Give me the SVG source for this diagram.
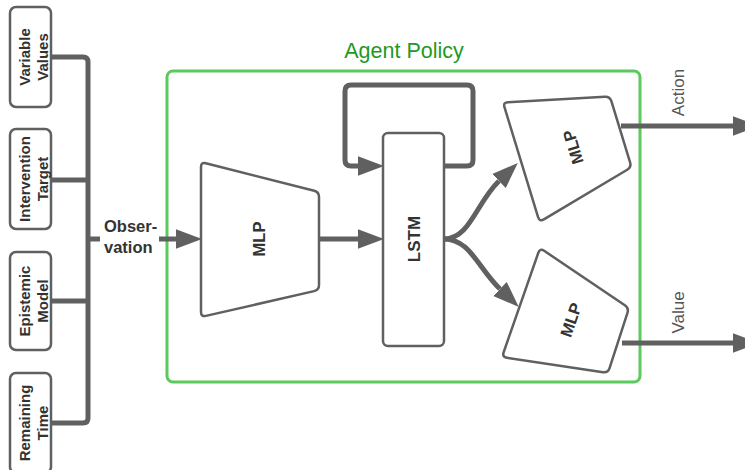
<svg xmlns="http://www.w3.org/2000/svg" width="745" height="470" viewBox="0 0 745 470">
<defs>
<style>
.box{fill:#fff;stroke:#606060;stroke-width:2.5;}
.lbl{font-family:"Liberation Sans",Arial,sans-serif;font-weight:bold;font-size:15px;fill:#333;text-anchor:middle;}
.big{font-family:"Liberation Sans",Arial,sans-serif;font-weight:bold;fill:#333;text-anchor:middle;}
.out{font-family:"Liberation Sans",Arial,sans-serif;font-size:17px;fill:#555;text-anchor:middle;}
.con{fill:none;stroke:#606060;stroke-width:5;}
</style>
<marker id="ah" markerUnits="userSpaceOnUse" markerWidth="26" markerHeight="20" viewBox="0 0 24 18" refX="0" refY="9" orient="auto">
<path d="M0,0 L24,9 L0,18 Z" fill="#606060"/>
</marker>
<path id="mlp" d="M-47.1,-61.3 L47.1,-38.2 Q52,-37 52,-32 L52,32 Q52,37 47.1,38.2 L-47.1,61.3 Q-52,62.5 -52,57.5 L-52,-57.5 Q-52,-62.5 -47.1,-61.3 Z"/>
</defs>

<g id="agent-policy">
<rect x="167" y="71" width="473" height="311" rx="6" fill="none" stroke="#5cc95c" stroke-width="3"/>
<text x="404" y="58" font-family="'Liberation Sans',Arial,sans-serif" font-size="21.5" fill="#1f9a1f" text-anchor="middle">Agent Policy</text>
</g>

<g id="variable-values">
<rect class="box" x="10" y="7" width="41" height="100" rx="6"/>
<text class="lbl" transform="translate(30.5,57) rotate(-90)"><tspan x="0" y="-1">Variable</tspan><tspan x="0" y="17.5">Values</tspan></text>
</g>
<g id="intervention-target">
<rect class="box" x="10" y="129" width="41" height="100" rx="6"/>
<text class="lbl" transform="translate(30.5,179) rotate(-90)"><tspan x="0" y="-1">Intervention</tspan><tspan x="0" y="17.5">Target</tspan></text>
</g>
<g id="epistemic-model">
<rect class="box" x="10" y="252" width="41" height="98" rx="6"/>
<text class="lbl" transform="translate(30.5,301) rotate(-90)"><tspan x="0" y="-1">Epistemic</tspan><tspan x="0" y="17.5">Model</tspan></text>
</g>
<g id="remaining-time">
<rect class="box" x="10" y="373" width="41" height="100" rx="6"/>
<text class="lbl" transform="translate(30.5,423) rotate(-90)"><tspan x="0" y="-1">Remaining</tspan><tspan x="0" y="17.5">Time</tspan></text>
</g>

<g id="observation">
<text class="big" font-size="16.5" x="104" y="232" style="text-anchor:start">Obser-</text>
<text class="big" font-size="16.5" x="104" y="253" style="text-anchor:start">vation</text>
</g>

<g id="mlp-encoder">
<path class="box" d="M205.8,163.2 L314.2,190.8 Q319,192 319,197 L319,285 Q319,290 314.1,291.1 L205.9,315.9 Q201,317 201,312 L201,167 Q201,162 205.8,163.2 Z"/>
<text class="big" font-size="16.5" transform="translate(259,239) rotate(-90)" x="0" y="5.8">MLP</text>
</g>

<g id="lstm">
<rect class="box" x="383" y="133" width="61" height="213" rx="5"/>
<text class="big" font-size="17" transform="translate(413.5,239) rotate(-90)" x="0" y="6">LSTM</text>
</g>

<g id="mlp-action">
<use href="#mlp" class="box" transform="translate(571,147) rotate(-17)"/>
<text class="big" font-size="16.5" transform="translate(573,147) rotate(-107)" x="0" y="5.8">MLP</text>
</g>

<g id="mlp-value">
<path class="box" d="M544.15,250.8 L624.85,305.2 Q629,308 627.46,312.76 L609.54,368.24 Q608,373 603.06,372.25 L506.94,357.75 Q502,357 503.65,352.28 L538.35,252.72 Q540,248 544.15,250.8 Z"/>
<text class="big" font-size="16.5" transform="translate(571,320) rotate(-71)" x="0" y="5.8">MLP</text>
</g>

<g id="outputs">
<text class="out" transform="translate(683.5,92.5) rotate(-90)" x="0" y="0">Action</text>
<text class="out" transform="translate(683.5,312.5) rotate(-90)" x="0" y="0">Value</text>
</g>

<g id="connectors">
<path class="con" d="M51,57 H83 Q88,57 88,62 V418 Q88,423 83,423 H51"/>
<path class="con" d="M51,180 H88"/>
<path class="con" d="M51,301 H88"/>
<path class="con" d="M88,239 H100"/>
<path class="con" d="M159,239 H176" marker-end="url(#ah)"/>
<path class="con" d="M319,239 H358" marker-end="url(#ah)"/>
<path class="con" d="M444,166 H467 Q473,166 473,160 V91 Q473,85 467,85 H351 Q345,85 345,91 V160 Q345,166 351,166 H358" marker-end="url(#ah)"/>
<path class="con" d="M444,239 C470,239 476,203 499,181" marker-end="url(#ah)"/>
<path class="con" d="M444,239 C470,239 478,268 500,289" marker-end="url(#ah)"/>
<path class="con" d="M621,126 H733" marker-end="url(#ah)"/>
<path class="con" d="M622,343 H733" marker-end="url(#ah)"/>
</g>
</svg>
